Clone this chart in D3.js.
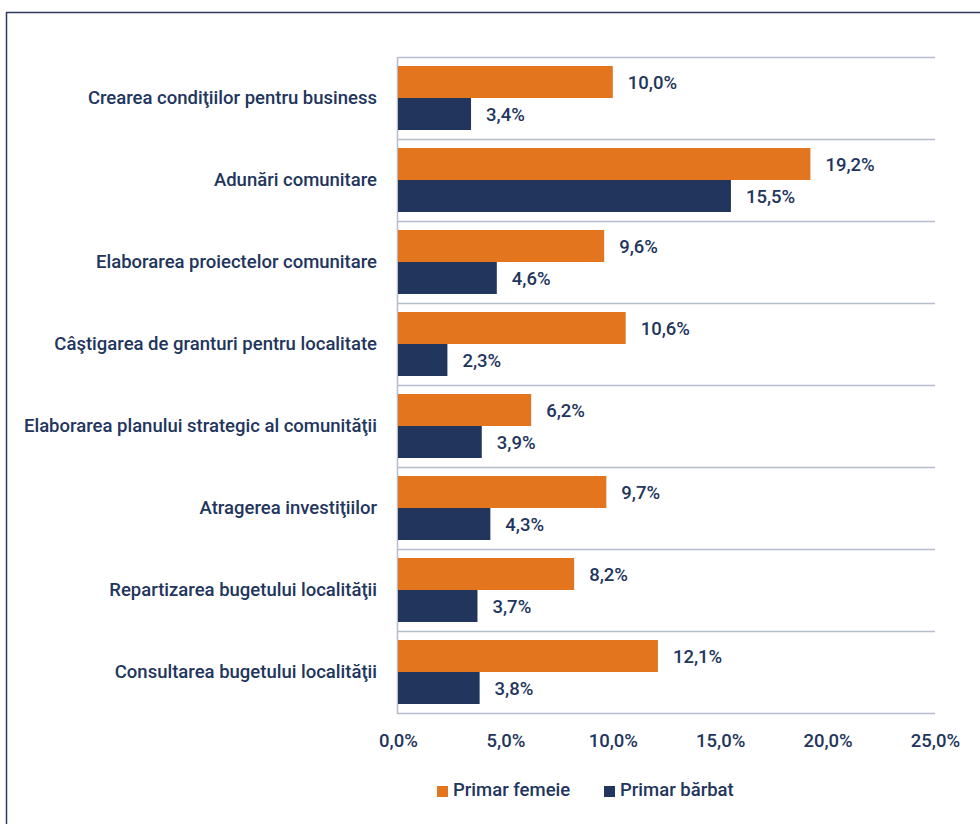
<!DOCTYPE html>
<html>
<head>
<meta charset="utf-8">
<script src="https://cdn.jsdelivr.net/npm/d3@7"></script>
<style>
  body { margin: 0; background: #fff; }
  svg { font-family: Roboto, "Noto Sans", sans-serif; }
</style>
</head>
<body>
<div id="chart"></div>
<script>
// DATA
const categories = [
  "Crearea condiţiilor pentru business",
  "Adunări comunitare",
  "Elaborarea proiectelor comunitare",
  "Câştigarea de granturi pentru localitate",
  "Elaborarea planului strategic al comunităţii",
  "Atragerea investiţiilor",
  "Repartizarea bugetului localităţii",
  "Consultarea bugetului localităţii"
]
const series = ["Primar femeie", "Primar bărbat"]
const femeie = [10.0, 19.2, 9.6, 10.6, 6.2, 9.7, 8.2, 12.1]
const barbat = [3.4, 15.5, 4.6, 2.3, 3.9, 4.3, 3.7, 3.8]
const ticks = [0, 5, 10, 15, 20, 25]

const colors = ["#e2751d", "#22355d"]
const textColor = "#22355d"
const gridColor = "#b5bccc"
const fontSize = 18.5

const width = 980, height = 824
const plotLeft = 398, plotRight = 935, plotTop = 57, plotBottom = 713

const fmt = v => d3.format(".1f")(v).replace(".", ",") + "%"

// SCALES
const xScale = d3.scaleLinear().domain([0, 25]).range([plotLeft, plotRight])
const yScale = d3.scaleBand()
    .domain(categories)
    .range([plotTop, plotBottom])
    .paddingInner(18 / 82)
    .paddingOuter(9 / 82)
const subScale = d3.scaleBand().domain(series).range([0, yScale.bandwidth()])

const svg = d3.select("#chart").append("svg")
    .attr("width", width)
    .attr("height", height)

// frame
svg.append("rect")
    .attr("x", 6.5).attr("y", 12.5)
    .attr("width", width).attr("height", height)
    .attr("fill", "none")
    .attr("stroke", "#2c3b5e")
    .attr("stroke-width", 1.5)

// GRIDLINES between categories
const step = yScale.step()
svg.append("g").selectAll("line")
    .data(d3.range(categories.length + 1))
    .join("line")
    .attr("x1", plotLeft).attr("x2", plotRight)
    .attr("y1", i => plotTop + i * step + 0.5)
    .attr("y2", i => plotTop + i * step + 0.5)
    .attr("stroke", gridColor)
    .attr("stroke-width", 1.5)

svg.append("line")
    .attr("x1", plotLeft - 0.5).attr("x2", plotLeft - 0.5)
    .attr("y1", plotTop).attr("y2", plotBottom + 1)
    .attr("stroke", gridColor)
    .attr("stroke-width", 1.5)

// BARS
const rows = categories.map((c, i) => ({ cat: c, values: [femeie[i], barbat[i]] }))

const groups = svg.append("g").selectAll("g")
    .data(rows)
    .join("g")
    .attr("transform", d => `translate(0, ${yScale(d.cat)})`)

groups.selectAll("rect")
    .data(d => d.values.map((v, j) => ({ s: series[j], v, j })))
    .join("rect")
    .attr("x", xScale(0))
    .attr("y", d => subScale(d.s))
    .attr("width", d => xScale(d.v) - xScale(0))
    .attr("height", subScale.bandwidth())
    .attr("fill", d => colors[d.j])

groups.selectAll("text")
    .data(d => d.values.map((v, j) => ({ s: series[j], v, j })))
    .join("text")
    .attr("x", d => xScale(d.v) + 15)
    .attr("y", d => subScale(d.s) + subScale.bandwidth() / 2 + 1)
    .attr("dy", "0.35em")
    .attr("fill", textColor)
    .attr("font-size", fontSize)
    .attr("font-weight", 500)
    .text(d => fmt(d.v))

// CATEGORY LABELS
svg.append("g").selectAll("text")
    .data(categories)
    .join("text")
    .attr("x", 377)
    .attr("y", d => yScale(d) + yScale.bandwidth() / 2)
    .attr("dy", "0.35em")
    .attr("text-anchor", "end")
    .attr("fill", textColor)
    .attr("font-size", fontSize)
    .attr("font-weight", 500)
    .text(d => d)

// X AXIS
const xAxis = d3.axisBottom(xScale)
    .tickValues(ticks)
    .tickSize(0)
    .tickPadding(0)
    .tickFormat(fmt)

const ax = svg.append("g")
    .attr("transform", `translate(0, ${plotBottom})`)
    .call(xAxis)
ax.select(".domain").remove()
ax.selectAll("text")
    .attr("y", 28)
    .attr("dy", "0.35em")
    .attr("fill", textColor)
    .attr("font-size", fontSize)
    .attr("font-weight", 500)
    .attr("font-family", "Roboto, sans-serif")

// LEGEND
const legendX = [437, 604]
const legend = svg.append("g").selectAll("g")
    .data(series)
    .join("g")
    .attr("transform", (d, i) => `translate(${legendX[i]}, 790)`)
legend.append("rect")
    .attr("x", 0).attr("y", -4)
    .attr("width", 11).attr("height", 11)
    .attr("fill", (d, i) => colors[i])
legend.append("text")
    .attr("x", 16)
    .attr("dy", "0.35em")
    .attr("fill", textColor)
    .attr("font-size", fontSize)
    .attr("font-weight", 500)
    .text(d => d)
</script>
</body>
</html>
